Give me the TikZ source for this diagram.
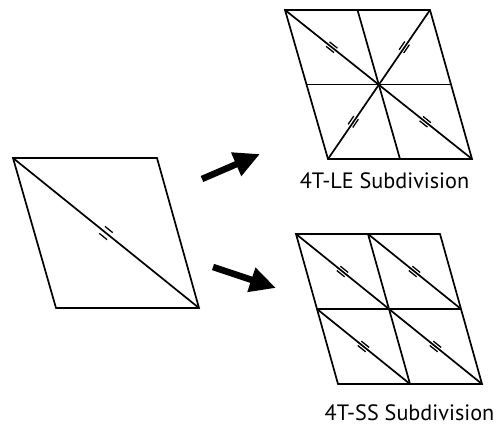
\documentclass[tikz,border=0pt]{standalone}
\usepackage{fontspec}
\setmainfont{PT Sans}
\usetikzlibrary{calc,arrows.meta}
\tikzset{
  edge/.style={line width=1.7pt},
  tickline/.style={line width=1.3pt},
  bigarrow/.style={line width=6.5pt,-{Triangle[length=26pt,width=24pt]}},
  caption/.style={font=\fontsize{22.2}{26}\selectfont,anchor=base,inner sep=0pt}
}
\newcommand\eqmark[3]{%
  \coordinate (em) at ($(#1)!0.5!(#2)$);
  \coordinate (ea) at ($(em)!5pt!(#2)$);
  \coordinate (eb) at ($(em)!-5pt!(#2)$);
  \draw[tickline] ($(eb)!#3!90:(ea)$) -- ($(ea)!#3!-90:(eb)$);
  \draw[tickline] ($(eb)!#3!-90:(ea)$) -- ($(ea)!#3!90:(eb)$);
}
\begin{document}
\begin{tikzpicture}[x=1pt,y=-1pt]
\useasboundingbox (0,0) rectangle (498,425);
% left parallelogram
\coordinate (LA) at (13,158);
\coordinate (LB) at (157,158);
\coordinate (LC) at (199,308);
\coordinate (LD) at (56,308);
\draw[edge] (LA) -- (LB) -- (LC) -- (LD) -- cycle;
\draw[edge] (LA) -- (LC);
\eqmark{LA}{LC}{4.5pt}
% top-right: 4T-LE
\coordinate (TA) at (285,10);
\coordinate (TB) at (430,10);
\coordinate (TC) at (472,159);
\coordinate (TD) at (328,159);
\coordinate (TO) at ($(TA)!0.5!(TC)$);
\coordinate (TAB) at ($(TA)!0.5!(TB)$);
\coordinate (TDC) at ($(TD)!0.5!(TC)$);
\coordinate (TAD) at ($(TA)!0.5!(TD)$);
\coordinate (TBC) at ($(TB)!0.5!(TC)$);
\draw[edge] (TA) -- (TB) -- (TC) -- (TD) -- cycle;
\draw[edge] (TA) -- (TC);
\draw[edge] (TB) -- (TD);
\draw[edge] (TAB) -- (TDC);
\draw[edge] (TAD) -- (TBC);
\eqmark{TA}{TO}{2.8pt}
\eqmark{TB}{TO}{2.8pt}
\eqmark{TD}{TO}{2.8pt}
\eqmark{TC}{TO}{2.8pt}
\node[caption] (capLE) at (384.5,188) {4T-LE Subdivision};
% bottom-right: 4T-SS
\coordinate (SA) at (296,234);
\coordinate (SB) at (440,234);
\coordinate (SC) at (482,384);
\coordinate (SD) at (338,384);
\coordinate (SO) at ($(SA)!0.5!(SC)$);
\coordinate (SAB) at ($(SA)!0.5!(SB)$);
\coordinate (SDC) at ($(SD)!0.5!(SC)$);
\coordinate (SAD) at ($(SA)!0.5!(SD)$);
\coordinate (SBC) at ($(SB)!0.5!(SC)$);
\draw[edge] (SA) -- (SB) -- (SC) -- (SD) -- cycle;
\draw[edge] (SAB) -- (SDC);
\draw[edge] (SAD) -- (SBC);
\draw[edge] (SA) -- (SO);
\draw[edge] (SAB) -- (SBC);
\draw[edge] (SAD) -- (SDC);
\draw[edge] (SO) -- (SC);
\eqmark{SA}{SO}{2.8pt}
\eqmark{SAB}{SBC}{2.8pt}
\eqmark{SAD}{SDC}{2.8pt}
\eqmark{SO}{SC}{2.8pt}
\node[caption] (capSS) at (409.5,420) {4T-SS Subdivision};
% arrows
\coordinate (a1s) at (202,179);
\coordinate (a1e) at (260,154);
\coordinate (a2s) at (213,267);
\coordinate (a2e) at (276,288);
\draw[bigarrow] (a1s) -- (a1e);
\draw[bigarrow] (a2s) -- (a2e);
\end{tikzpicture}
\end{document}
